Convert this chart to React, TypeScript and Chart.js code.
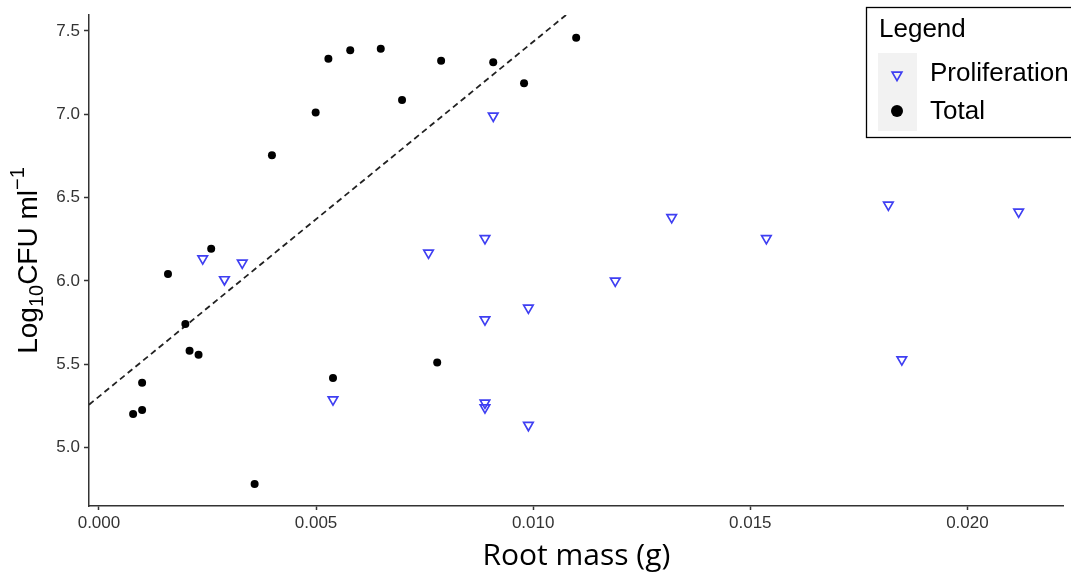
import { useEffect, useRef } from "react";
import { Chart, registerables } from "chart.js";

Chart.register(...registerables);

// ---- Data ----
const proliferationX = [0.00239, 0.00289, 0.0033, 0.00539, 0.00759, 0.00889, 0.00889, 0.00889, 0.00889, 0.00908, 0.00989, 0.00989, 0.01189, 0.01319, 0.01537, 0.01818, 0.01849, 0.02118];
const proliferationY = [6.133, 6.008, 6.108, 5.287, 6.168, 6.255, 5.767, 5.267, 5.239, 6.99, 5.838, 5.133, 6.0, 6.381, 6.255, 6.456, 5.527, 6.414];

const totalX = [0.000787, 0.000994, 0.000994, 0.00159, 0.00199, 0.002087, 0.002294, 0.002585, 0.003585, 0.003984, 0.004991, 0.005284, 0.005787, 0.00649, 0.00698, 0.00788, 0.00908, 0.00979, 0.01099, 0.00539, 0.00779];
const totalY = [5.2, 5.224, 5.388, 6.041, 5.74, 5.58, 5.556, 6.193, 4.78, 6.754, 7.01, 7.334, 7.384, 7.394, 7.086, 7.322, 7.312, 7.186, 7.46, 5.417, 5.509];

const xTicks = [0, 0.005, 0.01, 0.015, 0.02];
const yTicks = [5.0, 5.5, 6.0, 6.5, 7.0, 7.5];

const fitIntercept = 5.305;
const fitSlope = 213;

const X_MIN = -0.000229;
const X_MAX = 0.02222;
const Y_MIN = 4.648;
const Y_MAX = 7.596;

const SANS = '"Liberation Sans", Arial, Helvetica, sans-serif';
const PROLIF_COLOR = "#3f3ff2";

const yTitlePlugin = {
  id: "yTitle",
  afterDraw(chart: any) {
    const ctx = chart.ctx as CanvasRenderingContext2D;
    const area = chart.chartArea;
    const cy = (area.top + area.bottom) / 2;
    const big = `28px ${SANS}`;
    const small = `20px ${SANS}`;
    const parts = [
      { t: "Log", f: big, dy: 0 },
      { t: "10", f: small, dy: 6 },
      { t: "CFU ml", f: big, dy: 0 },
      { t: "\u22121", f: small, dy: -13 },
    ];
    ctx.save();
    let total = 0;
    for (const p of parts) {
      ctx.font = p.f;
      total += ctx.measureText(p.t).width;
    }
    ctx.translate(37, cy);
    ctx.rotate(-Math.PI / 2);
    ctx.fillStyle = "#000";
    ctx.textBaseline = "alphabetic";
    ctx.textAlign = "left";
    let x = -total / 2;
    for (const p of parts) {
      ctx.font = p.f;
      ctx.fillText(p.t, x, p.dy);
      x += ctx.measureText(p.t).width;
    }
    ctx.restore();
  },
};

const legendPlugin = {
  id: "boxLegend",
  afterDraw(chart: any) {
    const ctx = chart.ctx as CanvasRenderingContext2D;
    const ds = chart.data.datasets;
    ctx.save();
    ctx.fillStyle = "#fff";
    ctx.fillRect(866.5, 7.5, 230, 130);
    ctx.strokeStyle = "#000";
    ctx.lineWidth = 1.3;
    ctx.strokeRect(866.5, 7.5, 230, 130);

    ctx.fillStyle = "#000";
    ctx.font = `26px ${SANS}`;
    ctx.textAlign = "left";
    ctx.textBaseline = "alphabetic";
    ctx.fillText("Legend", 879, 37);

    ctx.fillStyle = "#f2f2f2";
    ctx.fillRect(878, 53, 39, 78);

    // Proliferation key (down triangle)
    const r = 5.6;
    const cx = 897;
    const ty = 75;
    ctx.beginPath();
    ctx.moveTo(cx, ty + r);
    ctx.lineTo(cx + r * Math.sin((2 * Math.PI) / 3), ty - r / 2);
    ctx.lineTo(cx - r * Math.sin((2 * Math.PI) / 3), ty - r / 2);
    ctx.closePath();
    ctx.strokeStyle = PROLIF_COLOR;
    ctx.lineWidth = 1.7;
    ctx.stroke();

    // Total key (circle)
    ctx.beginPath();
    ctx.arc(cx, 111, 6, 0, Math.PI * 2);
    ctx.fillStyle = "#000";
    ctx.fill();

    ctx.fillStyle = "#000";
    ctx.font = `26px ${SANS}`;
    ctx.textBaseline = "middle";
    ctx.fillText(ds[0].label, 930, 74);
    ctx.fillText(ds[1].label, 930, 112);
    ctx.restore();
  },
};

export default function App() {
  const ref = useRef<HTMLCanvasElement>(null);

  useEffect(() => {
    const canvas = ref.current;
    if (!canvas) return;
    const chart = new Chart(canvas, {
      type: "scatter",
      data: {
        datasets: [
          {
            label: "Proliferation",
            data: proliferationX.map((x, i) => ({ x, y: proliferationY[i] })),
            pointStyle: "triangle",
            rotation: 180,
            pointRadius: 5.5,
            pointBorderWidth: 1.7,
            pointBackgroundColor: "rgba(0,0,0,0)",
            pointBorderColor: PROLIF_COLOR,
            backgroundColor: "rgba(0,0,0,0)",
            borderColor: PROLIF_COLOR,
            order: 1,
          } as any,
          {
            label: "Total",
            data: totalX.map((x, i) => ({ x, y: totalY[i] })),
            pointStyle: "circle",
            pointRadius: 4,
            pointBorderWidth: 0,
            pointBackgroundColor: "#000",
            backgroundColor: "#000",
            borderColor: "#000",
            order: 2,
          } as any,
          {
            label: "fit",
            data: [
              { x: X_MIN, y: fitIntercept + fitSlope * X_MIN },
              { x: X_MAX, y: fitIntercept + fitSlope * X_MAX },
            ],
            showLine: true,
            pointRadius: 0,
            borderColor: "#222",
            borderWidth: 1.8,
            borderDash: [6, 4],
            order: 3,
          } as any,
        ],
      },
      options: {
        responsive: false,
        animation: false,
        devicePixelRatio: 1,
        layout: { padding: { left: 0, top: 15, right: 4, bottom: 0 } },
        plugins: {
          legend: { display: false },
          tooltip: { enabled: false },
        },
        scales: {
          x: {
            type: "linear",
            min: X_MIN,
            max: X_MAX,
            afterBuildTicks: (s: any) => {
              s.ticks = xTicks.map((v) => ({ value: v }));
            },
            afterFit: (s: any) => {
              s.height = 68;
            },
            border: { display: true, color: "#333", width: 1.5 },
            grid: { drawOnChartArea: false, tickLength: 4, color: "#333", tickWidth: 1.5 } as any,
            ticks: {
              font: { family: SANS, size: 17 },
              color: "#333",
              padding: 3,
              maxRotation: 0,
              autoSkip: false,
              callback: (v: any) => Number(v).toFixed(3),
            },
            title: {
              display: true,
              text: "Root mass (g)",
              font: { family: '"Open Sans", sans-serif', size: 30 },
              color: "#000",
              padding: { top: 0, bottom: 0 },
            },
          },
          y: {
            type: "linear",
            min: Y_MIN,
            max: Y_MAX,
            afterBuildTicks: (s: any) => {
              s.ticks = yTicks.map((v) => ({ value: v }));
            },
            afterFit: (s: any) => {
              s.width = 89;
            },
            border: { display: true, color: "#333", width: 1.5 },
            grid: { drawOnChartArea: false, tickLength: 5, color: "#333", tickWidth: 1.5 } as any,
            ticks: {
              font: { family: SANS, size: 17 },
              color: "#333",
              padding: 4,
              autoSkip: false,
              callback: (v: any) => Number(v).toFixed(1),
            },
          },
        },
      },
      plugins: [yTitlePlugin, legendPlugin],
    });
    return () => chart.destroy();
  }, []);

  return (
    <div style={{ position: "fixed", left: 0, top: 0, width: 1071, height: 574, background: "#fff" }}>
      <canvas ref={ref} width={1071} height={574} style={{ display: "block", width: 1071, height: 574 }} />
    </div>
  );
}
